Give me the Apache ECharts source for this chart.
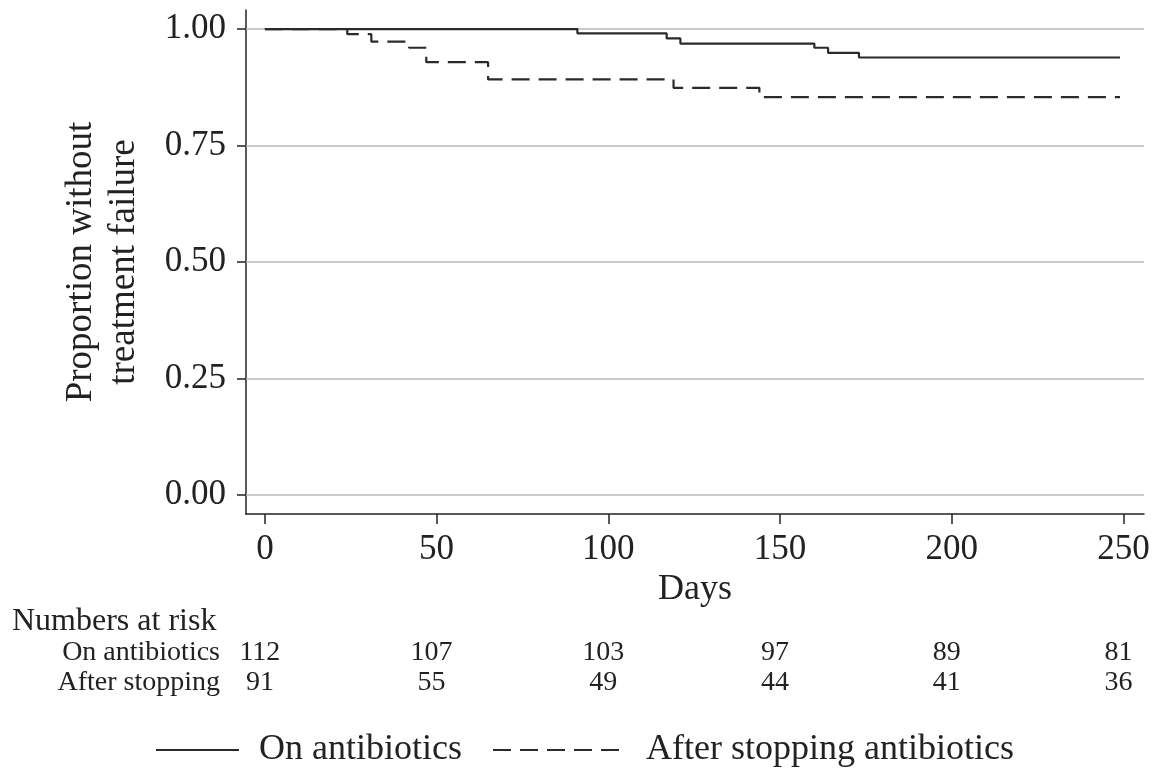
<!DOCTYPE html>
<html>
<head>
<meta charset="utf-8">
<script src="https://cdn.jsdelivr.net/npm/echarts@6/dist/echarts.min.js"></script>
<style>
  html, body { margin: 0; padding: 0; background: #fff; }
  #main { width: 1155px; height: 769px; }
</style>
</head>
<body>
<div id="main"></div>
<script>
// Kaplan-Meier steps: [day, proportion]
const onAntibiotics = [[0, 1], [91, 0.991], [117, 0.980], [121, 0.969], [160, 0.960], [164, 0.949], [173, 0.939], [249, 0.939]];
const afterStopping = [[0, 1], [24, 0.989], [31, 0.973], [42, 0.960], [47, 0.929], [65, 0.892], [119, 0.874], [144, 0.854], [249, 0.854]];

const dayTicks = [0, 50, 100, 150, 200, 250];
const propTicks = [0, 0.25, 0.5, 0.75, 1];

// numbers at risk under each day tick
const riskOn = [112, 107, 103, 97, 89, 81];
const riskAfter = [91, 55, 49, 44, 41, 36];

const seriesNames = ['On antibiotics', 'After stopping antibiotics'];

const serif = '"Liberation Serif", "DejaVu Serif", serif';
const ink = '#222';

let chart = echarts.init(document.getElementById('main'));

function setKmOption() {
  // legend keeps only the line sample, no symbol dot
  const legendBase = {
    top: 732, itemHeight: 14, padding: 0,
    itemStyle: { color: 'transparent', borderWidth: 0, opacity: 0 },
    textStyle: { fontFamily: serif, fontSize: 36, color: ink, padding: [0, 0, 0, 15] }
  };
  return {
    animation: false,
    backgroundColor: '#fff',
    textStyle: { fontFamily: serif, color: ink },
    grid: { left: 246, right: 11, top: 10, bottom: 255 },
    legend: [
      Object.assign({ data: [seriesNames[0]], left: 155, itemWidth: 83 }, legendBase),
      Object.assign({ data: [seriesNames[1]], left: 492, itemWidth: 133 }, legendBase)
    ],
    xAxis: {
      type: 'value', min: -5.5, max: 256,
      name: 'Days', nameLocation: 'middle', nameGap: 58,
      nameTextStyle: { fontFamily: serif, fontSize: 36, color: ink },
      axisLine: { show: true, onZero: false, lineStyle: { color: ink, width: 1.5 } },
      axisTick: { show: true, customValues: dayTicks, length: 10, lineStyle: { color: ink, width: 1.5 } },
      axisLabel: { customValues: dayTicks, margin: 18, fontFamily: serif, fontSize: 35, color: ink },
      splitLine: { show: false }
    },
    yAxis: {
      type: 'value', min: -0.041, max: 1.041,
      name: 'Proportion without\ntreatment failure', nameLocation: 'middle', nameGap: 100, nameRotate: 90,
      nameTextStyle: { fontFamily: serif, fontSize: 37, color: ink, lineHeight: 43 },
      axisLine: { show: true, onZero: false, lineStyle: { color: ink, width: 1.5 } },
      axisTick: { show: true, customValues: propTicks, length: 9, lineStyle: { color: ink, width: 1.5 } },
      axisLabel: {
        customValues: propTicks, margin: 20, fontFamily: serif, fontSize: 35, color: ink,
        formatter: v => v.toFixed(2)
      },
      splitLine: { show: false }
    },
    series: [
      {
        name: seriesNames[0], type: 'line', step: 'end', symbol: 'none', z: 3,
        data: onAntibiotics,
        lineStyle: { color: '#2a2a2a', width: 2.2, type: 'solid' },
        itemStyle: { color: '#2a2a2a' },
        markLine: {
          silent: true, symbol: 'none', z: 1,
          label: { show: false },
          lineStyle: { color: '#b8b8b8', width: 1.5, type: 'solid' },
          data: propTicks.map(v => ({ yAxis: v }))
        }
      },
      {
        name: seriesNames[1], type: 'line', step: 'end', symbol: 'none', z: 3,
        data: afterStopping,
        lineStyle: { color: '#2a2a2a', width: 2.2, type: [18, 9] },
        itemStyle: { color: '#2a2a2a' }
      }
    ]
  };
}

chart.setOption(setKmOption());

// numbers at risk table, placed under the day ticks through the x scale
function riskTable() {
  let els = [];
  els.push({
    type: 'text', left: 12, top: 606,
    style: { text: 'Numbers at risk', fontFamily: serif, fontSize: 32, fill: ink }
  });
  const rows = [['On antibiotics', riskOn, 653], ['After stopping', riskAfter, 683]];
  rows.forEach(r => {
    els.push({
      type: 'text', x: 220, y: r[2],
      style: { text: r[0], fontFamily: serif, fontSize: 28, fill: ink, align: 'right', verticalAlign: 'middle' }
    });
    r[1].forEach((n, i) => {
      let px = chart.convertToPixel({ xAxisIndex: 0 }, dayTicks[i]);
      els.push({
        type: 'text', x: px - 5, y: r[2],
        style: { text: String(n), fontFamily: serif, fontSize: 28, fill: ink, align: 'center', verticalAlign: 'middle' }
      });
    });
  });
  return els;
}

chart.setOption({ graphic: riskTable() });
</script>
</body>
</html>
